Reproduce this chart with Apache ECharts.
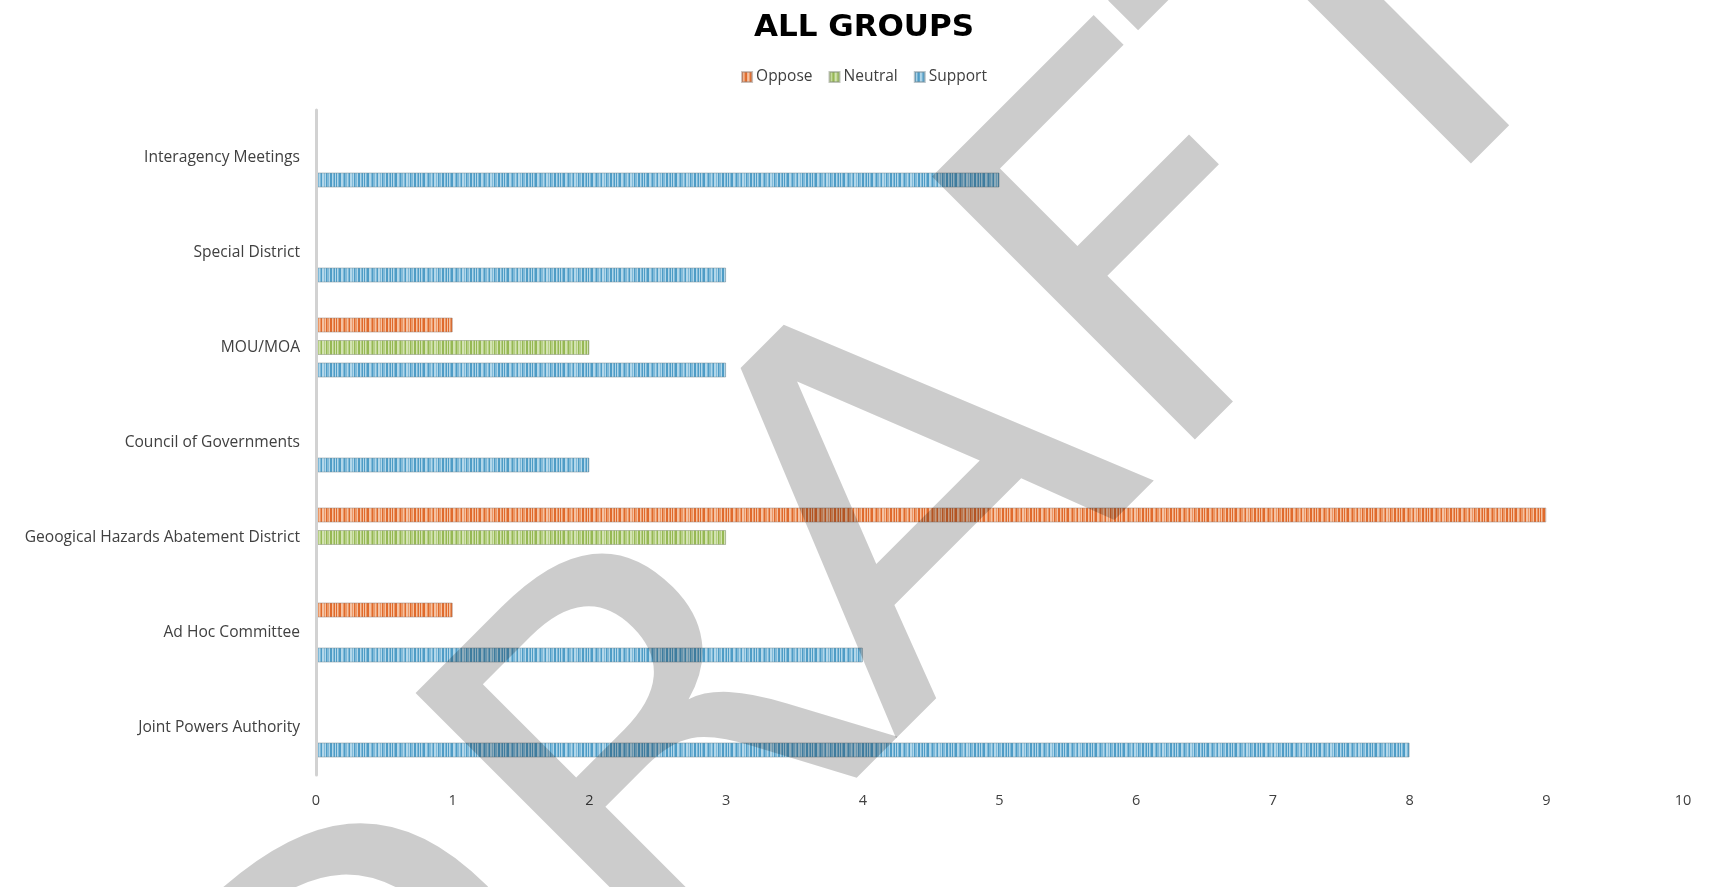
<!DOCTYPE html>
<html>
<head>
<meta charset="utf-8">
<script src="https://cdn.jsdelivr.net/npm/echarts@6/dist/echarts.min.js"></script>
<style>
html,body{margin:0;padding:0;background:#fff;}
#chart{width:1728px;height:887px;}
</style>
</head>
<body>
<div id="chart"></div>
<script>
// Categories, bottom to top (as drawn)
var categories = ['Joint Powers Authority','Ad Hoc Committee','Geoogical Hazards Abatement District','Council of Governments','MOU/MOA','Special District','Interagency Meetings'];
var opposeValues  = [0, 1, 9, 0, 1, 0, 0];
var neutralValues = [0, 0, 3, 0, 2, 0, 0];
var supportValues = [8, 4, 0, 2, 3, 3, 5];
var xTicks = [0,1,2,3,4,5,6,7,8,9,10];

function stripePattern(dark, mid, light) {
  var shades = [dark, light, mid, dark, light, light, mid, dark, mid, light, mid, dark, light, mid, light, dark, mid, mid, light, dark, light, mid, dark, light];
  var widths = [1,1,1,2,1,1,1,1,2,1,1,1,2,1,1,1,1,1,1,2,1,1,1,1];
  var total = 0; for (var i=0;i<widths.length;i++) total += widths[i];
  var c = document.createElement('canvas');
  c.width = total; c.height = 4;
  var ctx = c.getContext('2d');
  var x = 0;
  for (var j=0;j<widths.length;j++){ ctx.fillStyle = shades[j]; ctx.fillRect(x,0,widths[j],4); x += widths[j]; }
  return {image: c, repeat: 'repeat'};
}
var opposeFill  = stripePattern('#E06a2c', '#EC9866', '#F5C2A2');
var neutralFill = stripePattern('#96B854', '#B6CF84', '#D3E3B2');
var supportFill = stripePattern('#4E9CC6', '#80BAD9', '#B2D7EA');

function nz(arr){ return arr.map(function(v){ return v === 0 ? null : v; }); }

var chart = echarts.init(document.getElementById('chart'));
var labelFont = '"Open Sans", "Noto Sans", sans-serif';
chart.setOption({
  animation: false,
  backgroundColor: '#ffffff',
  title: {
    text: 'ALL GROUPS',
    left: 'center',
    top: 7,
    textStyle: {fontFamily: '"DejaVu Sans", sans-serif', fontWeight: 'bold', fontSize: 31, color: '#000000'}
  },
  legend: {
    data: ['Oppose','Neutral','Support'],
    left: 'center',
    top: 64,
    itemWidth: 10,
    itemHeight: 10,
    itemGap: 16,
    icon: 'rect',
    textStyle: {fontFamily: labelFont, fontSize: 15.5, color: '#404040', padding: [0,0,0,-1]}
  },
  grid: {left: 316, right: 45, top: 110, bottom: 112, containLabel: false},
  xAxis: {
    type: 'value',
    min: 0, max: 10, interval: 1,
    axisLine: {show: false},
    axisTick: {show: false},
    splitLine: {show: false},
    axisLabel: {fontFamily: labelFont, fontSize: 14.5, color: '#404040', margin: 18,
      formatter: function(v){ return xTicks.indexOf(v) >= 0 ? String(v) : ''; }}
  },
  yAxis: {
    type: 'category',
    data: categories,
    z: 5,
    axisLine: {show: true, lineStyle: {color: '#D2D2D2', width: 3}},
    axisTick: {show: false},
    splitLine: {show: false},
    axisLabel: {fontFamily: labelFont, fontSize: 15.6, color: '#404040', margin: 16}
  },
  series: [
    {name: 'Oppose', type: 'bar', data: nz(opposeValues), barWidth: 15, barGap: '50%',
      itemStyle: {color: opposeFill, borderColor: 'rgba(150,130,120,0.5)', borderWidth: 1}},
    {name: 'Neutral', type: 'bar', data: nz(neutralValues), barWidth: 15, barGap: '50%',
      itemStyle: {color: neutralFill, borderColor: 'rgba(130,140,120,0.5)', borderWidth: 1}},
    {name: 'Support', type: 'bar', data: nz(supportValues), barWidth: 15, barGap: '50%',
      itemStyle: {color: supportFill, borderColor: 'rgba(120,140,150,0.5)', borderWidth: 1}}
  ],
  graphic: [{
    type: 'text',
    x: 882, y: 565,
    rotation: Math.PI / 4,
    scaleX: 1.07,
    z: 100,
    silent: true,
    style: {
      text: 'DRAFT',
      font: 'normal 510px "DejaVu Sans"',
      fill: 'rgba(0,0,0,0.2)',
      textAlign: 'center', textVerticalAlign: 'middle',
      align: 'center', verticalAlign: 'middle'
    }
  }]
});
</script>
</body>
</html>
